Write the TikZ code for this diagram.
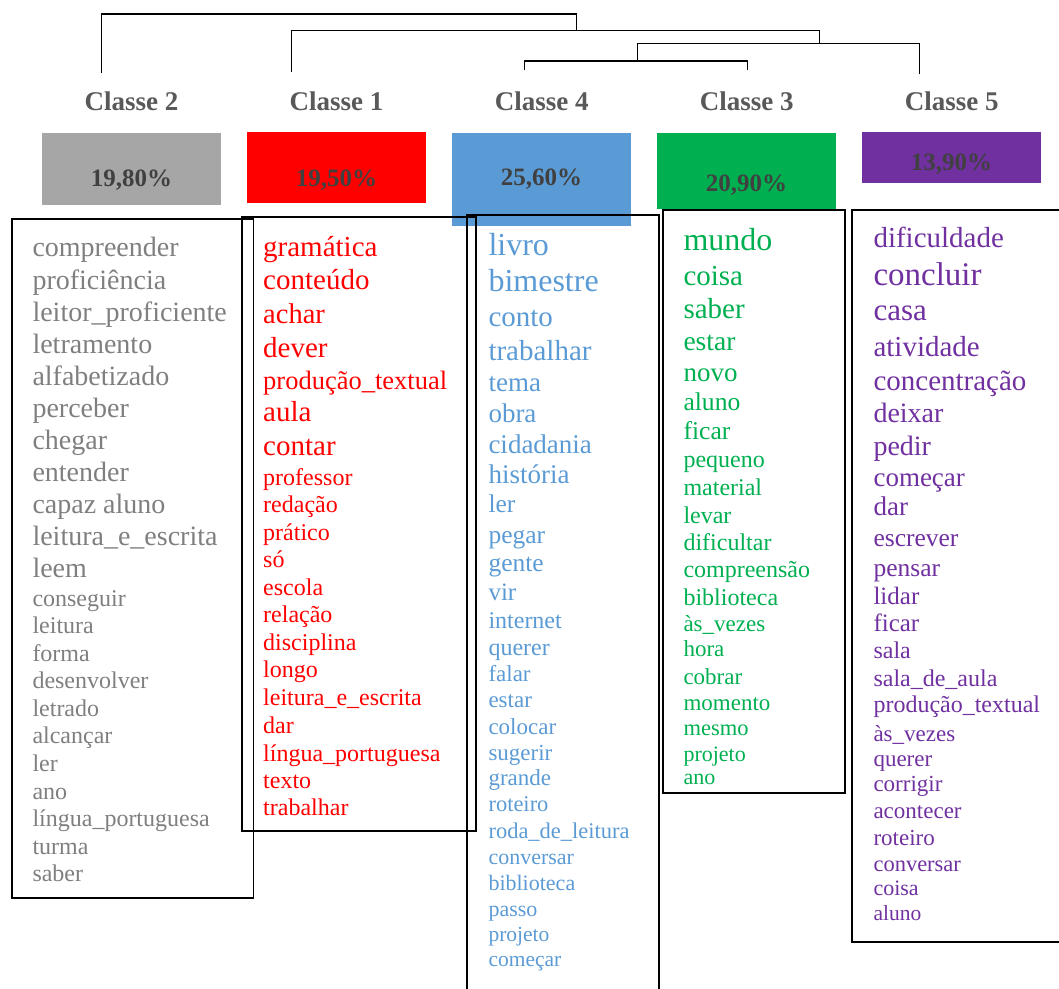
\documentclass[tikz,border=0pt]{standalone}
\usepackage{fontspec}
\setmainfont{Liberation Serif}
\definecolor{cgray}{HTML}{7F7F7F}
\definecolor{cred}{HTML}{FF0000}
\definecolor{cblue}{HTML}{5B9BD5}
\definecolor{cgreen}{HTML}{00B050}
\definecolor{cpurple}{HTML}{7030A0}
\definecolor{fgray}{HTML}{A6A6A6}
\definecolor{lab}{HTML}{595959}
\definecolor{pct}{HTML}{404040}
\tikzset{
  dend/.style={draw=black, line width=1.1pt},
  outline/.style={draw=black, line width=1.8pt},
  classlab/.style={anchor=base, inner sep=0pt, text=lab, font=\fontsize{27}{30}\selectfont\bfseries},
  pctlab/.style={anchor=base, inner sep=0pt, text=pct, font=\fontsize{25}{28}\selectfont\bfseries},
  word/.style={anchor=base west, inner sep=0pt}
}
\begin{document}
\begin{tikzpicture}[x=1pt,y=-1pt]
\useasboundingbox (0,0) rectangle (1059,988);
\clip (0,0) rectangle (1059,988);
% dendrogram
\coordinate (d2) at (101.5,73.3);
\coordinate (d1) at (291.2,72.3);
\coordinate (d4) at (524.3,70);
\coordinate (d3) at (747.3,70);
\coordinate (d5) at (919.6,74);
\coordinate (j43) at (637.8,61);
\coordinate (j435) at (819.6,43.7);
\coordinate (j1435) at (576.4,30.3);
\coordinate (jtop) at (576.4,14);
\draw[dend] (d4) |- (j43) -| (d3);
\draw[dend] (j43) |- (j435) -| (d5);
\draw[dend] (d1) |- (j1435) -| (j435);
\draw[dend] (d2) |- (jtop) -- (j1435);
% class labels
\node[classlab] (c2) at (131.5,110.7) {Classe 2};
\node[classlab] (c1) at (336.5,110.7) {Classe 1};
\node[classlab] (c4) at (541.7,110.7) {Classe 4};
\node[classlab] (c3) at (746.7,110.7) {Classe 3};
\node[classlab] (c5) at (951.7,110.7) {Classe 5};
% colored boxes
\fill[fgray] (42,133) rectangle (221,205);
\fill[cred] (247,132) rectangle (426,202.7);
\fill[cblue] (452,132.7) rectangle (630.7,225.7);
\fill[cgreen] (657,132.7) rectangle (835.7,208.7);
\fill[cpurple] (862,132) rectangle (1040.7,182.7);
\node[pctlab] (p2) at (131.5,186.7) {19,80\%};
\node[pctlab] (p1) at (336.5,186) {19,50\%};
\node[pctlab] (p4) at (541.4,185) {25,60\%};
\node[pctlab] (p3) at (746.4,191.7) {20,90\%};
\node[pctlab] (p5) at (951.4,170.7) {13,90\%};
% outlines
\draw[outline] (11.7,219.3) rectangle (253.5,898.3);
\draw[outline] (242,217.3) rectangle (476,830.7);
\draw[outline] (467.3,995) -- (467.3,215) -- (659,215) -- (659,995);
\draw[outline] (663,210) rectangle (845,793);
\draw[outline] (1065,210) -- (852.3,210) -- (852.3,941.7) -- (1065,941.7);
% gray words
\foreach \yy/\ss/\ww [count=\i] in {
256.7/28/compreender, 289.3/28/proficiência, 321/28/leitor\_proficiente,
353.3/28/letramento, 385.7/28/alfabetizado, 417.3/28/perceber,
449.3/28/chegar, 481.7/28/entender, 513.3/28/capaz aluno,
545/28/leitura\_e\_escrita, 577.7/28/leem,
606/24/conseguir, 633.5/24/leitura, 661/24/forma, 688.7/24/desenvolver,
716.3/24/letrado, 743.8/24/alcançar, 771.4/24/ler, 799/24/ano,
826.5/24/língua\_portuguesa, 854/24/turma, 881.7/24/saber}
  \node[word, text=cgray, font=\fontsize{\ss}{\ss}\selectfont] (g\i) at (32.3,\yy) {\ww};
% red words
\foreach \yy/\ss/\ww [count=\i] in {
256.7/29/gramática, 289.3/29/conteúdo, 323.3/28.5/achar, 357.3/29/dever,
389.3/26.5/produção\_textual, 421.7/29/aula, 455.7/29/contar,
485/24/professor, 512.7/24/redação, 540/24/prático, 567.7/24/só,
595/24/escola, 622.7/24/relação, 650.7/24/disciplina, 677.7/24/longo,
705.7/24/leitura\_e\_escrita, 733.3/24/dar, 761/24/língua\_portuguesa,
788.3/24/texto, 815.7/24/trabalhar}
  \node[word, text=cred, font=\fontsize{\ss}{\ss}\selectfont] (r\i) at (263,\yy) {\ww};
% blue words
\foreach \yy/\ss/\ww [count=\i] in {
255/32/livro, 291/32/bimestre, 326.7/29/conto, 360.7/29/trabalhar,
391.7/27/tema, 422.3/27/obra, 453.3/27/cidadania, 483.3/27/história,
512.7/25.5/ler, 543.3/25.5/pegar, 571/25.5/gente, 600/25/vir,
628.3/24/internet, 655/24/querer, 681.7/23/falar, 707.3/23/estar,
734/23/colocar, 760/23/sugerir, 785/23/grande, 811.7/22.5/roteiro,
838.3/22.5/roda\_de\_leitura, 864/22/conversar, 890/22/biblioteca,
916/22/passo, 941.7/21.5/projeto, 966/21.5/começar}
  \node[word, text=cblue, font=\fontsize{\ss}{\ss}\selectfont] (b\i) at (488.3,\yy) {\ww};
% green words
\foreach \yy/\ss/\ww [count=\i] in {
250.7/32/mundo, 285/29/coisa, 318.3/29/saber, 350/27.5/estar, 381/27/novo,
410/25.6/aluno, 439.3/25.6/ficar, 467.3/24/pequeno, 495/24/material,
523.3/24/levar, 550/24/dificultar, 577.7/24/compreensão, 605.5/24/biblioteca,
631.7/23/às\_vezes, 656.7/23/hora, 684/23/cobrar, 710/23/momento,
735.7/22.5/mesmo, 761/22/projeto, 784/22/ano}
  \node[word, text=cgreen, font=\fontsize{\ss}{\ss}\selectfont] (v\i) at (683.3,\yy) {\ww};
% purple words
\foreach \yy/\ss/\ww [count=\i] in {
247.7/29/dificuldade, 285/33/concluir, 320.7/31/casa, 356/29/atividade,
390/29/concentração, 422.7/28/deixar, 455/28/pedir, 486/27/começar,
515/27/dar, 546.7/25.5/escrever, 576/25.5/pensar, 604/25/lidar,
631.7/25/ficar, 658.3/24/sala, 686.7/24/sala\_de\_aula,
712.7/24/produção\_textual, 741.7/23/às\_vezes, 766.7/23/querer,
791.7/23/corrigir, 818.3/23/acontecer, 845/23/roteiro, 871.7/22.5/conversar,
895/22/coisa, 920/21.5/aluno}
  \node[word, text=cpurple, font=\fontsize{\ss}{\ss}\selectfont] (u\i) at (873.3,\yy) {\ww};
\end{tikzpicture}
\end{document}
